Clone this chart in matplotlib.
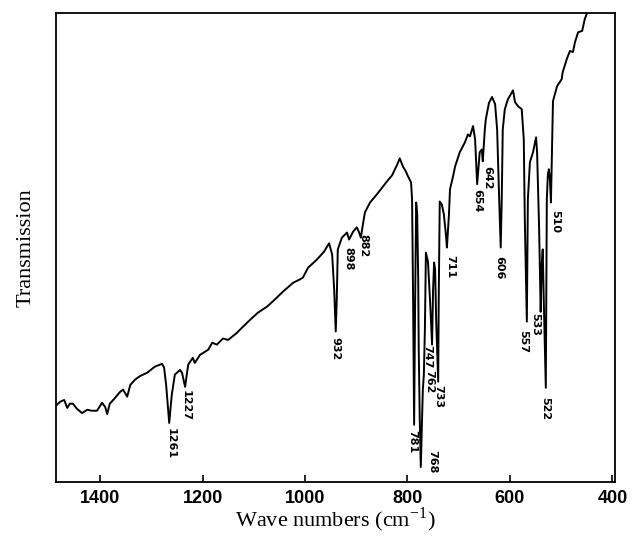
import numpy as np
from matplotlib import pyplot as plt

plt.rcParams['mathtext.fontset'] = 'stix'

# IR spectrum (wave number in cm-1, transmission in arbitrary %)
wavenumber = [1484, 1478, 1470, 1464, 1459, 1453, 1445, 1435, 1425, 1416, 1406, 1396, 1390, 1386,
              1381, 1371, 1361, 1355, 1347, 1341, 1332, 1322, 1308, 1293, 1279, 1275, 1271, 1265,
              1260, 1254, 1244, 1240, 1234, 1228, 1219, 1215, 1205, 1189, 1181, 1172, 1160, 1150,
              1133, 1123, 1107, 1092, 1074, 1059, 1043, 1023, 1010, 1004, 994, 977, 963, 953,
              947, 943, 940, 938, 936, 928, 918, 914, 906, 899, 895, 891, 887, 883, 873, 860,
              840, 830, 820, 815, 809, 803, 799, 793, 791, 789, 787, 785, 783, 781, 779, 778,
              776, 774, 772, 770, 768, 766, 764, 760, 756, 752, 750, 748, 746, 744, 740, 739,
              737, 733, 729, 725, 723, 719, 717, 711, 707, 698, 688, 682, 678, 672, 668, 664,
              660, 659, 655, 653, 649, 647, 641, 635, 629, 625, 621, 618, 616, 614, 610, 604,
              594, 590, 584, 577, 573, 571, 567, 565, 561, 555, 549, 547, 543, 540, 538, 536,
              534, 530, 528, 526, 524, 522, 520, 518, 516, 508, 499, 497, 489, 483, 477, 473,
              467, 459, 454, 448]
transmission = [16.5, 17.1, 17.5, 15.8, 16.7, 16.7, 15.6, 14.7, 15.4, 15.2, 15.2, 16.9, 16.0, 14.5,
                16.7, 17.9, 19.2, 19.7, 18.2, 20.7, 21.8, 22.6, 23.3, 24.6, 25.2, 24.4, 20.7, 12.6,
                18.6, 22.9, 23.9, 23.3, 20.3, 25.0, 26.5, 25.4, 27.1, 28.2, 29.7, 29.3, 30.6, 30.3,
                31.8, 32.9, 34.6, 36.1, 37.4, 38.9, 40.6, 42.5, 43.2, 43.6, 45.7, 47.4, 49.1, 50.9,
                48.5, 41.0, 32.1, 38.9, 49.6, 52.1, 53.2, 51.7, 53.4, 54.3, 53.4, 52.1, 54.9, 57.5,
                59.6, 61.3, 64.1, 65.4, 67.7, 69.0, 67.3, 66.2, 65.2, 63.9, 60.3, 38.9, 12.2, 38.9,
                59.6, 57.1, 43.2, 28.2, 13.2, 3.2, 11.1, 19.7, 22.9, 32.5, 48.9, 47.0, 38.9, 29.3,
                41.0, 46.8, 45.3, 34.6, 21.4, 38.9, 59.8, 59.2, 57.1, 52.8, 50.0, 57.1, 62.4, 65.2,
                67.3, 70.3, 72.4, 74.1, 73.7, 75.9, 73.1, 63.5, 68.8, 70.3, 70.9, 68.4, 75.2, 77.4,
                80.8, 82.1, 80.6, 75.2, 60.3, 50.0, 60.3, 75.2, 79.5, 81.6, 83.5, 81.0, 80.1, 79.5,
                73.1, 56.0, 34.2, 60.3, 68.2, 70.3, 73.5, 70.3, 53.8, 36.3, 46.4, 49.6, 38.9, 20.1,
                60.3, 65.6, 66.7, 64.5, 59.6, 70.9, 81.2, 84.4, 85.9, 87.4, 90.2, 91.9, 91.7, 93.8,
                95.9, 96.2, 98.7, 100.4]

# peak labels and where they sit (wave number, top of text in transmission units)
peak_labels = ['1261', '1227', '932', '898', '882', '781', '768', '747', '762', '733',
               '711', '654', '642', '606', '557', '533', '522', '510']
label_x = [1263, 1232, 941, 916, 887, 791, 752, 762, 758, 740, 717, 664, 645, 620, 575, 551, 532, 512]
label_y = [11.5, 19.7, 31.0, 50.2, 52.8, 11.1, 6.8, 29.3, 23.8, 20.7, 48.5, 62.4, 67.3, 48.1,
           32.5, 36.1, 18.2, 58.1]

xticks = [1400, 1200, 1000, 800, 600, 400]

fig = plt.figure(figsize=(6.39, 5.59), dpi=100)
ax = fig.add_axes([0.0876, 0.1377, 0.8748, 0.8390])

ax.plot(wavenumber, transmission, color='black', linewidth=1.4)

for lab, px, py in zip(peak_labels, label_x, label_y):
    ax.text(px, py, lab, rotation=270, ha='center', va='top', fontsize=8,
            fontweight='bold', family=['Liberation Sans Narrow', 'DejaVu Sans'])

ax.set_xlim(1486, 395)
ax.set_ylim(0, 100)
ax.set_xticks(xticks)
ax.set_xticklabels([str(t) for t in xticks], fontsize=13, fontweight='bold',
                   family='Liberation Sans')
ax.tick_params(axis='x', direction='in', length=5, width=1.2, pad=6)
ax.set_yticks([])
for s in ax.spines.values():
    s.set_linewidth(1.3)

ax.set_xlabel('Wave numbers (cm$^{\\mathregular{-1}}$)', fontsize=16, family='Liberation Serif',
              labelpad=-1)
ax.set_ylabel('Transmission', fontsize=16, family='Liberation Serif', labelpad=15)

plt.savefig('out.png', dpi=100)
